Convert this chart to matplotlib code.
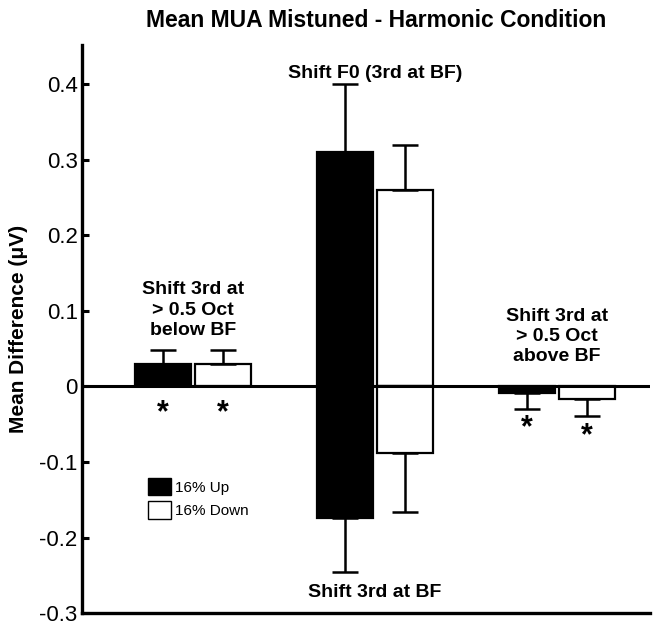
import numpy as np
import matplotlib.pyplot as plt
from matplotlib.patches import Patch

plt.rcParams['font.family'] = ['Liberation Sans', 'DejaVu Sans']

# one entry per condition; the middle group holds two conditions (F0 up, 3rd down)
group_pos = np.array([0, 1, 1, 2])
up_vals = np.array([0.030, 0.311, -0.174, -0.008])
down_vals = np.array([0.030, 0.260, -0.088, -0.017])
up_err = np.array([0.018, 0.089, 0.071, 0.022])
down_err = np.array([0.018, 0.059, 0.078, 0.022])

labels = ["Shift 3rd at\n> 0.5 Oct\nbelow BF", "Shift F0 (3rd at BF)",
          "Shift 3rd at\n> 0.5 Oct\nabove BF", "Shift 3rd at BF"]
label_x = [0, 1, 2, 1]
label_y = [0.139, 0.425, 0.104, -0.262]

w = 0.305
off = 0.165

fig = plt.figure(figsize=(6.55, 6.25), dpi=100)
ax = fig.add_axes([0.125, 0.019, 0.867, 0.909])

def one_sided(vals, errs):
    lo = np.where(vals < 0, errs, 0)
    hi = np.where(vals >= 0, errs, 0)
    return [lo, hi]

for vals, errs, sign, fc in [(up_vals, up_err, -1, 'black'), (down_vals, down_err, 1, 'white')]:
    x = group_pos + sign*off
    ax.bar(x, vals, width=w, color=fc, edgecolor='black', linewidth=1.6, zorder=2)
    ax.errorbar(x, vals, yerr=one_sided(vals, errs), fmt='none', ecolor='black',
                elinewidth=1.8, capsize=9.5, capthick=1.8, zorder=3)

ax.axhline(0, color='black', lw=2.2, zorder=4)

# labels over / under groups
for lx, ly, txt in zip(label_x, label_y, labels):
    ax.text(lx, ly, txt, ha='center', va='top', fontsize=14, fontweight='bold',
            linespacing=1.25)

# significance stars
star_x = [0 - off, 0 + off, 2 - off, 2 + off]
star_y = [-0.035, -0.035, -0.055, -0.066]
for sx, sy in zip(star_x, star_y):
    ax.text(sx, sy, '*', ha='center', va='center', fontsize=22, fontweight='bold')

ax.set_xlim(-0.61, 2.51)
ax.set_ylim(-0.3, 0.452)
ax.set_yticks([-0.3, -0.2, -0.1, 0, 0.1, 0.2, 0.3, 0.4])
ax.set_yticklabels(['-0.3', '-0.2', '-0.1', '0', '0.1', '0.2', '0.3', '0.4'], fontsize=16)
ax.set_xticks([])
ax.tick_params(axis='y', direction='in', width=2.2, length=5, pad=3)
for s in ['top', 'right']:
    ax.spines[s].set_visible(False)
ax.spines['left'].set_linewidth(2.4)
ax.spines['bottom'].set_linewidth(2.4)

ax.set_ylabel('Mean Difference (\u03bcV)', fontsize=15, fontweight='bold', labelpad=8)

handles = [Patch(facecolor='black', edgecolor='black', label='16% Up'),
           Patch(facecolor='white', edgecolor='black', label='16% Down')]
ax.legend(handles=handles, loc='upper left', bbox_to_anchor=(0.116, 0.238), frameon=False,
          borderpad=0, borderaxespad=0, fontsize=11, handlelength=1.5, handleheight=1.37,
          handletextpad=0.3, labelspacing=0.4)

fig.text(0.574, 0.957, 'Mean MUA Mistuned - Harmonic Condition', ha='center', va='baseline',
         fontsize=16.5, fontweight='bold')

fig.savefig('out.png', dpi=100)
